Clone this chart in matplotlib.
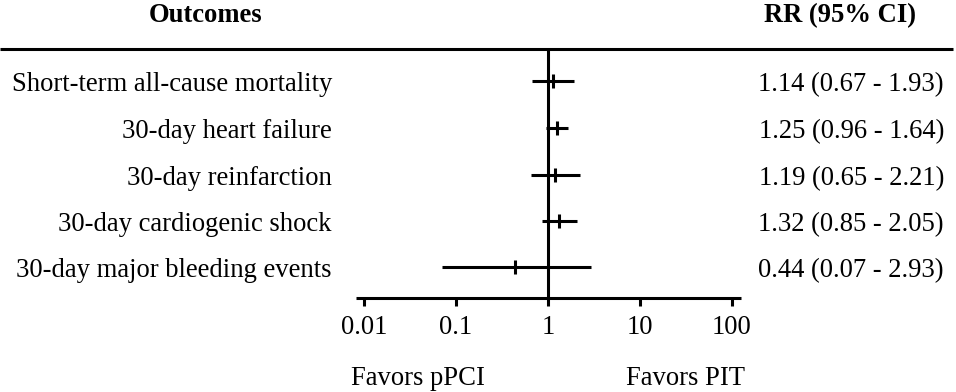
import matplotlib
matplotlib.use("Agg")
import matplotlib.pyplot as plt
import numpy as np

outcomes = ["Short-term all-cause mortality", "30-day heart failure", "30-day reinfarction",
            "30-day cardiogenic shock", "30-day major bleeding events"]
rr = [1.14, 1.25, 1.19, 1.32, 0.44]
lo = [0.67, 0.96, 0.65, 0.85, 0.07]
hi = [1.93, 1.64, 2.21, 2.05, 2.93]
tick_vals = [0.01, 0.1, 1, 10, 100]
tick_labels = ["0.01", "0.1", "1", "10", "100"]

W, H = 956, 392
fig = plt.figure(figsize=(W/100, H/100), dpi=100)
ax = fig.add_axes([0, 0, 1, 1])
ax.set_xscale("log")
# pixel mapping: x_px = 548 + 92*log10(v)
ax.set_xlim(10**(-548/92), 10**((W-548)/92))
ax.set_ylim(H, 0)
ax.axis("off")

font = "Liberation Serif"
fs = 19.2
lw = 2.2
row_y = [81, 128, 175, 221, 267]
tr = ax.get_yaxis_transform()

# top rule
ax.plot([0, 953/W], [49, 49], transform=tr, color="black", lw=lw, solid_capstyle="butt")
# vertical line at 1
ax.plot([1, 1], [49, 298], color="black", lw=lw, solid_capstyle="butt")
# x axis
ax.plot([0.0081, 126], [298, 298], color="black", lw=lw, solid_capstyle="butt")
for v, lab in zip(tick_vals, tick_labels):
    ax.plot([v, v], [298, 306], color="black", lw=lw, solid_capstyle="butt")
    ax.text(v, 334, lab, ha="center", va="baseline", fontsize=fs, family=font)

for y, name, r, l, h in zip(row_y, outcomes, rr, lo, hi):
    ax.plot([l, h], [y, y], color="black", lw=lw, solid_capstyle="butt")
    ax.plot([r, r], [y-7, y+7], color="black", lw=lw, solid_capstyle="butt")
    ax.text(332/W, y+10, name, transform=tr, ha="right", va="baseline",
            fontsize=fs, family=font)
    ax.text(944/W, y+10, f"{r:.2f} ({l:.2f} - {h:.2f})", transform=tr,
            ha="right", va="baseline", fontsize=fs, family=font)

ax.text(206/W, 22, "Outcomes", transform=tr, ha="center", va="baseline",
        fontsize=fs, family=font, fontweight="bold")
ax.text(840/W, 22, "RR (95% CI)", transform=tr, ha="center", va="baseline",
        fontsize=fs, family=font, fontweight="bold")
ax.text(418/W, 385, "Favors pPCI", transform=tr, ha="center", va="baseline",
        fontsize=fs, family=font)
ax.text(686/W, 385, "Favors PIT", transform=tr, ha="center", va="baseline",
        fontsize=fs, family=font)

fig.savefig("out.png", dpi=100)
